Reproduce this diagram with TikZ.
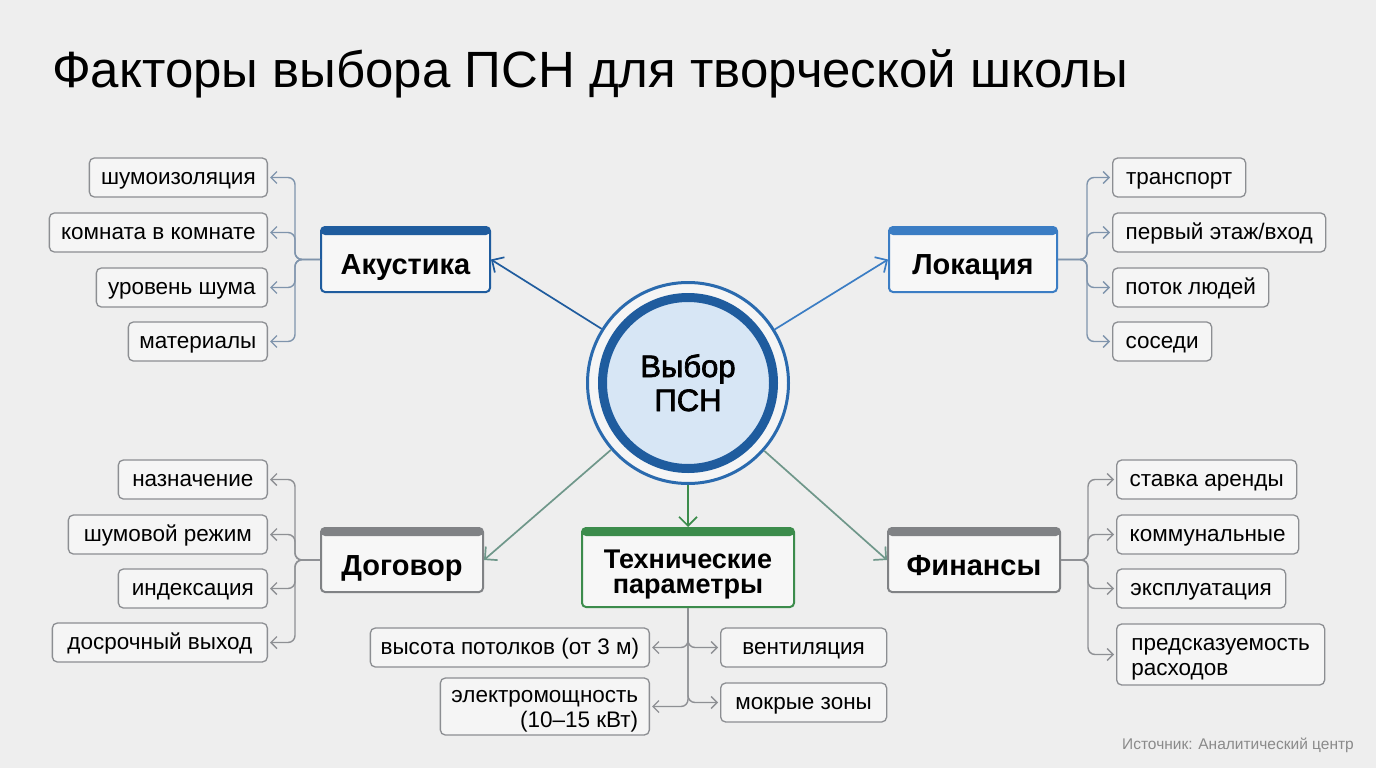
\documentclass[tikz,border=0pt]{standalone}
\usepackage{fontspec}
\setmainfont{Liberation Sans}
\newfontfamily\medfont[FakeBold=2.2]{Liberation Sans}
\usetikzlibrary{arrows.meta}
\definecolor{bg}{HTML}{EEEEEE}
\definecolor{akblue}{HTML}{1F5C9E}
\definecolor{lokblue}{HTML}{3B7DC4}
\definecolor{catgray}{HTML}{808285}
\definecolor{techgreen}{HTML}{3C8C4C}
\definecolor{boxfill}{HTML}{F7F7F7}
\definecolor{leafdraw}{HTML}{8C8E92}
\definecolor{leaffill}{HTML}{F5F5F5}
\definecolor{brblue}{HTML}{7F94AC}
\definecolor{brgray}{HTML}{8E9094}
\definecolor{arrgreen}{HTML}{6F978A}
\definecolor{ringout}{HTML}{2A6AAE}
\definecolor{ringin}{HTML}{1F5C9E}
\definecolor{cfill}{HTML}{D7E6F5}
\definecolor{srcgray}{HTML}{8A8A8A}
\tikzset{
  cat/.style={draw=#1, line width=2pt, rounded corners=4pt, fill=boxfill,
    font=\bfseries\fontsize{29}{32}\selectfont, align=center, inner sep=0pt,
    text height=30.8pt, text depth=0pt,
    path picture={\fill[#1] ([yshift=2pt]path picture bounding box.north west) rectangle ([yshift=-8pt]path picture bounding box.north east);}},
  leaf/.style={draw=leafdraw, line width=1.3pt, rounded corners=5pt, fill=leaffill,
    font=\fontsize{22.5}{25}\selectfont, inner xsep=10pt, inner ysep=0pt, minimum height=39pt,
    text height=14pt, text depth=0pt},
  flat/.style={text height=0pt, text depth=0pt},
  brk/.style={draw=#1, line width=1.4pt, rounded corners=7pt, shorten >=2pt,
    -{Straight Barb[length=6pt,width=12pt]}},
  mainarr/.style={draw=#1, line width=1.7pt,
    -{Straight Barb[length=9pt,width=18pt]}}
}
\begin{document}
\begin{tikzpicture}[x=1pt,y=-1pt]
\useasboundingbox[fill=bg] (0,0) rectangle (1376,768);

% title
\node[anchor=base west, inner sep=0pt, font=\fontsize{51}{58}\selectfont] (title) at (52,88) {Факторы выбора ПСН для творческой школы};

% centre
\node[circle, minimum size=201pt, draw=ringout, line width=3pt, fill=bg!60!white, inner sep=0pt] (c) at (688,383) {};
\fill[cfill] (c.center) circle (84);
\draw[ringin, line width=9pt] (c.center) circle (85.5);
\node[flat, font=\medfont\fontsize{31}{34}\selectfont, inner sep=0pt] (ct) at (688,383) {\raisebox{-28pt}{\begin{tabular}[b]{@{}c@{}}Выбор\\ПСН\end{tabular}}};

% categories
\node[cat=akblue, minimum width=169pt, minimum height=65pt] (ak) at (405.5,259.5) {Акустика};
\node[cat=lokblue, minimum width=168pt, minimum height=65pt] (lok) at (973,259.5) {Локация};
\node[cat=catgray, minimum width=162pt, minimum height=64pt] (dog) at (402,560) {Договор};
\node[cat=techgreen, flat, minimum width=212pt, minimum height=79pt, font=\bfseries\fontsize{27}{25}\selectfont] (tech) at (688,567.5) {\raisebox{-25.5pt}{\begin{tabular}[b]{@{}c@{}}Технические\\параметры\end{tabular}}};
\node[cat=catgray, minimum width=172pt, minimum height=64pt] (fin) at (974,560) {Финансы};

% main arrows
\draw[mainarr=akblue] (c) -- (ak.east);
\draw[mainarr=lokblue] (c) -- (lok.west);
\draw[mainarr=arrgreen] (c) -- (dog.east);
\draw[mainarr=arrgreen] (c) -- (fin.west);
\draw[mainarr=techgreen] (c) -- (tech.north);

% Акустика leaves
\node[leaf, anchor=east, minimum width=178pt] (a1) at (268,177.5) {шумоизоляция};
\node[leaf, anchor=east, minimum width=218pt] (a2) at (268,232.5) {комната в комнате};
\node[leaf, anchor=east, minimum width=171pt] (a3) at (268,287.5) {уровень шума};
\node[leaf, anchor=east, minimum width=139pt] (a4) at (268,341.5) {материалы};
\coordinate (akj) at (295,259.5);
\foreach \n in {a1,a2,a3,a4} \draw[brk=brblue] (ak.west) -- (akj) |- (\n.east);

% Локация leaves
\node[leaf, anchor=west, minimum width=133pt] (l1) at (1112,177.5) {транспорт};
\node[leaf, anchor=west, minimum width=213pt] (l2) at (1112,232.5) {первый этаж/вход};
\node[leaf, anchor=west, minimum width=156pt] (l3) at (1112,287.5) {поток людей};
\node[leaf, anchor=west, minimum width=99pt] (l4) at (1112,341.5) {соседи};
\coordinate (lokj) at (1087,259.5);
\foreach \n in {l1,l2,l3,l4} \draw[brk=brblue] (lok.east) -- (lokj) |- (\n.west);

% Договор leaves
\node[leaf, anchor=east, minimum width=149pt] (d1) at (268,479.5) {назначение};
\node[leaf, anchor=east, minimum width=199pt] (d2) at (268,534.5) {шумовой режим};
\node[leaf, anchor=east, minimum width=149pt] (d3) at (268,588.5) {индексация};
\node[leaf, anchor=east, minimum width=215pt] (d4) at (268,642.5) {досрочный выход};
\coordinate (dogj) at (295,560);
\foreach \n in {d1,d2,d3,d4} \draw[brk=brgray] (dog.west) -- (dogj) |- (\n.east);

% Финансы leaves
\node[leaf, anchor=west, minimum width=180pt] (f1) at (1116,479.5) {ставка аренды};
\node[leaf, anchor=west, minimum width=182pt] (f2) at (1116,534.5) {коммунальные};
\node[leaf, anchor=west, minimum width=169pt] (f3) at (1116,588.5) {эксплуатация};
\node[leaf, flat, anchor=west, minimum width=208pt, minimum height=61pt, font=\fontsize{22.5}{25}\selectfont] (f4) at (1116,654.5) {\raisebox{-20.5pt}{\begin{tabular}[b]{@{}l@{}}предсказуемость\\расходов\end{tabular}}};
\coordinate (finj) at (1088,560);
\foreach \n in {f1,f2,f3,f4} \draw[brk=brgray] (fin.east) -- (finj) |- (\n.west);

% Технические leaves
\node[leaf, anchor=east, minimum width=279pt] (t1) at (650,647.5) {высота потолков (от 3 м)};
\node[leaf, flat, anchor=east, minimum width=209pt, minimum height=57pt, font=\fontsize{22.5}{24.5}\selectfont] (t2) at (650,706.5) {\raisebox{-20.5pt}{\begin{tabular}[b]{@{}r@{}}электромощность\\(10–15 кВт)\end{tabular}}};
\node[leaf, anchor=west, minimum width=166pt] (t3) at (720,647.5) {вентиляция};
\node[leaf, anchor=west, minimum width=166pt] (t4) at (720,702.5) {мокрые зоны};
\draw[brk=brgray] (tech.south) |- (t1.east);
\draw[brk=brgray] (tech.south) |- (t2.east);
\draw[brk=brgray] (tech.south) |- (t3.west);
\draw[brk=brgray] (tech.south) |- (t4.west);

% source
\node[anchor=east, text=srcgray, font=\fontsize{15.5}{18}\selectfont, inner sep=0pt] (src) at (1354,745) {Источник: Аналитический центр};
\end{tikzpicture}
\end{document}
